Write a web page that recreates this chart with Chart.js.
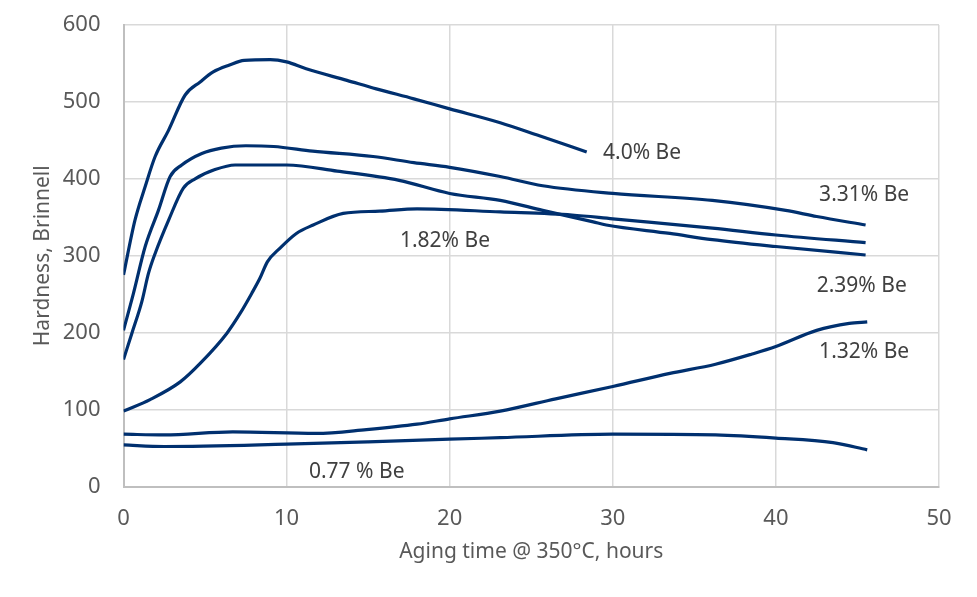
<!DOCTYPE html>
<html>
<head>
<meta charset="utf-8">
<script src="https://cdn.jsdelivr.net/npm/chart.js@4.4.1/dist/chart.umd.min.js"></script>
<style>
  html, body { margin: 0; padding: 0; background: #ffffff; }
  #wrap { width: 977px; height: 597px; }
</style>
</head>
<body>
<div id="wrap"><canvas id="hardness-chart"></canvas></div>
<script>
// Aging time (hours) and Brinnell hardness, one pair of arrays per alloy
let be40Hours = [0, 0.7, 1.33, 1.94, 2.76, 3.78, 4.7, 5.5, 6.5, 7.4, 9.0, 10.0, 11.2, 13.7, 15.5, 17.8, 20.0, 23.1, 25.5, 28.4];
let be40Hardness = [275, 346, 390, 429, 463, 509, 526, 539, 548, 554, 555, 552, 543, 528, 517, 504, 491, 473, 456, 435];

let be331Hours = [0, 0.61, 1.33, 2.14, 2.86, 3.57, 4.8, 6.0, 7.5, 9.2, 11.6, 15.3, 17.8, 20.0, 23.1, 25.7, 30.0, 36.1, 40.6, 42.5, 45.5];
let be331Hardness = [203, 251, 312, 359, 403, 418, 433, 440, 443, 442, 436, 429, 421, 415, 403, 391, 381, 372, 359, 351, 340];

let be239Hours = [0, 0.51, 1.12, 1.53, 1.94, 2.76, 3.67, 4.39, 5.61, 6.84, 10.0, 13.1, 16.9, 20.0, 23.1, 25.7, 28.8, 29.6, 33.5, 36.1, 40.0, 45.5];
let be239Hardness = [165, 199, 240, 277, 303, 346, 388, 400, 412, 418, 418, 410, 398, 381, 372, 359, 344, 340, 329, 321, 312, 301];

let be182Hours = [0, 1.63, 3.48, 4.7, 6.33, 7.15, 7.86, 8.37, 8.82, 9.6, 10.6, 11.63, 13.47, 15.7, 18.0, 23.1, 27.5, 30.0, 36.1, 40.0, 45.5];
let be182Hardness = [98, 113, 136, 160, 199, 225, 251, 271, 292, 310, 329, 340, 355, 358, 361, 357, 353, 348, 336, 327, 317];

let be132Hours = [0, 2.5, 6.7, 11.8, 14.9, 18.0, 20.0, 23.1, 26.5, 30.0, 33.5, 36.3, 38.5, 40.0, 42.5, 44.5, 45.6];
let be132Hardness = [68, 67, 71, 69, 74, 81, 88, 98, 114, 130, 147, 159, 172, 182, 203, 212, 214];

let be077Hours = [0, 2.5, 10.0, 15.0, 20.0, 23.1, 30.0, 36.3, 40.0, 43.5, 45.6];
let be077Hardness = [54, 52, 55, 58, 61.5, 63.5, 68, 67, 63, 57, 47.6];

// Curve labels: text and anchor in data units (left edge, vertical centre)
let curveNames = ['4.0% Be', '3.31% Be', '2.39% Be', '1.82% Be', '1.32% Be', '0.77 % Be'];
let curveLabelHours = [29.4, 42.65, 42.5, 16.95, 42.65, 11.37];
let curveLabelHardness = [433, 379, 261, 319, 175, 19];

let xTicks = [0, 10, 20, 30, 40, 50];
let yTicks = [0, 100, 200, 300, 400, 500, 600];

const lineColor = '#00306f';
const fontFamily = '"Noto Sans", "Open Sans", sans-serif';

function toPoints(hours, hardness) {
    return hours.map((h, i) => ({ x: h, y: hardness[i] }));
}

function makeSeries(label, hours, hardness) {
    return {
        label: label,
        data: toPoints(hours, hardness),
        borderColor: lineColor,
        borderWidth: 3.2,
        pointRadius: 0,
        fill: false,
        cubicInterpolationMode: 'monotone'
    };
}

// Draws the alloy names next to their curves, placed through the scales
const curveLabelsPlugin = {
    id: 'curveLabels',
    afterDatasetsDraw(chart) {
        const ctx = chart.ctx;
        const xs = chart.scales.x;
        const ys = chart.scales.y;
        ctx.save();
        ctx.font = '21px ' + fontFamily;
        ctx.fillStyle = '#404040';
        ctx.textAlign = 'left';
        ctx.textBaseline = 'middle';
        curveNames.forEach((name, i) => {
            ctx.fillText(name, xs.getPixelForValue(curveLabelHours[i]), ys.getPixelForValue(curveLabelHardness[i]));
        });
        ctx.restore();
    }
};

const ctx = document.getElementById('hardness-chart').getContext('2d');
new Chart(ctx, {
    type: 'line',
    data: {
        datasets: [
            makeSeries('4.0% Be', be40Hours, be40Hardness),
            makeSeries('3.31% Be', be331Hours, be331Hardness),
            makeSeries('2.39% Be', be239Hours, be239Hardness),
            makeSeries('1.82% Be', be182Hours, be182Hardness),
            makeSeries('1.32% Be', be132Hours, be132Hardness),
            makeSeries('0.77% Be', be077Hours, be077Hardness)
        ]
    },
    options: {
        responsive: true,
        maintainAspectRatio: false,
        animation: false,
        layout: { padding: { top: 25, right: 38, left: 0, bottom: 0 } },
        plugins: {
            legend: { display: false },
            tooltip: { enabled: false }
        },
        scales: {
            x: {
                type: 'linear',
                min: 0,
                max: 50,
                afterBuildTicks: (scale) => { scale.ticks = xTicks.map(v => ({ value: v })); },
                afterFit: (scale) => {
                    scale.height = 110.5;
                    scale.paddingLeft = 0;
                    scale.paddingRight = 0;
                },
                grid: { color: '#d9d9d9', lineWidth: 1.5, drawTicks: false },
                border: { color: '#bfbfbf', width: 2 },
                ticks: { color: '#595959', font: { family: fontFamily, size: 22 }, padding: 19 },
                title: {
                    display: true,
                    text: 'Aging time @ 350°C, hours',
                    color: '#595959',
                    font: { family: fontFamily, size: 21 },
                    padding: { top: 0, bottom: 32 }
                }
            },
            y: {
                min: 0,
                max: 600,
                afterBuildTicks: (scale) => { scale.ticks = yTicks.map(v => ({ value: v })); },
                afterFit: (scale) => {
                    scale.width = 123.5;
                    scale.paddingTop = 0;
                    scale.paddingBottom = 0;
                },
                grid: { color: '#d9d9d9', lineWidth: 1.5, drawTicks: false },
                border: { color: '#bfbfbf', width: 2 },
                ticks: { color: '#595959', font: { family: fontFamily, size: 22 }, padding: 23 },
                title: {
                    display: true,
                    text: 'Hardness, Brinnell',
                    color: '#595959',
                    font: { family: fontFamily, size: 21 },
                    padding: { top: 30, bottom: 0 }
                }
            }
        }
    },
    plugins: [curveLabelsPlugin]
});
</script>
</body>
</html>
